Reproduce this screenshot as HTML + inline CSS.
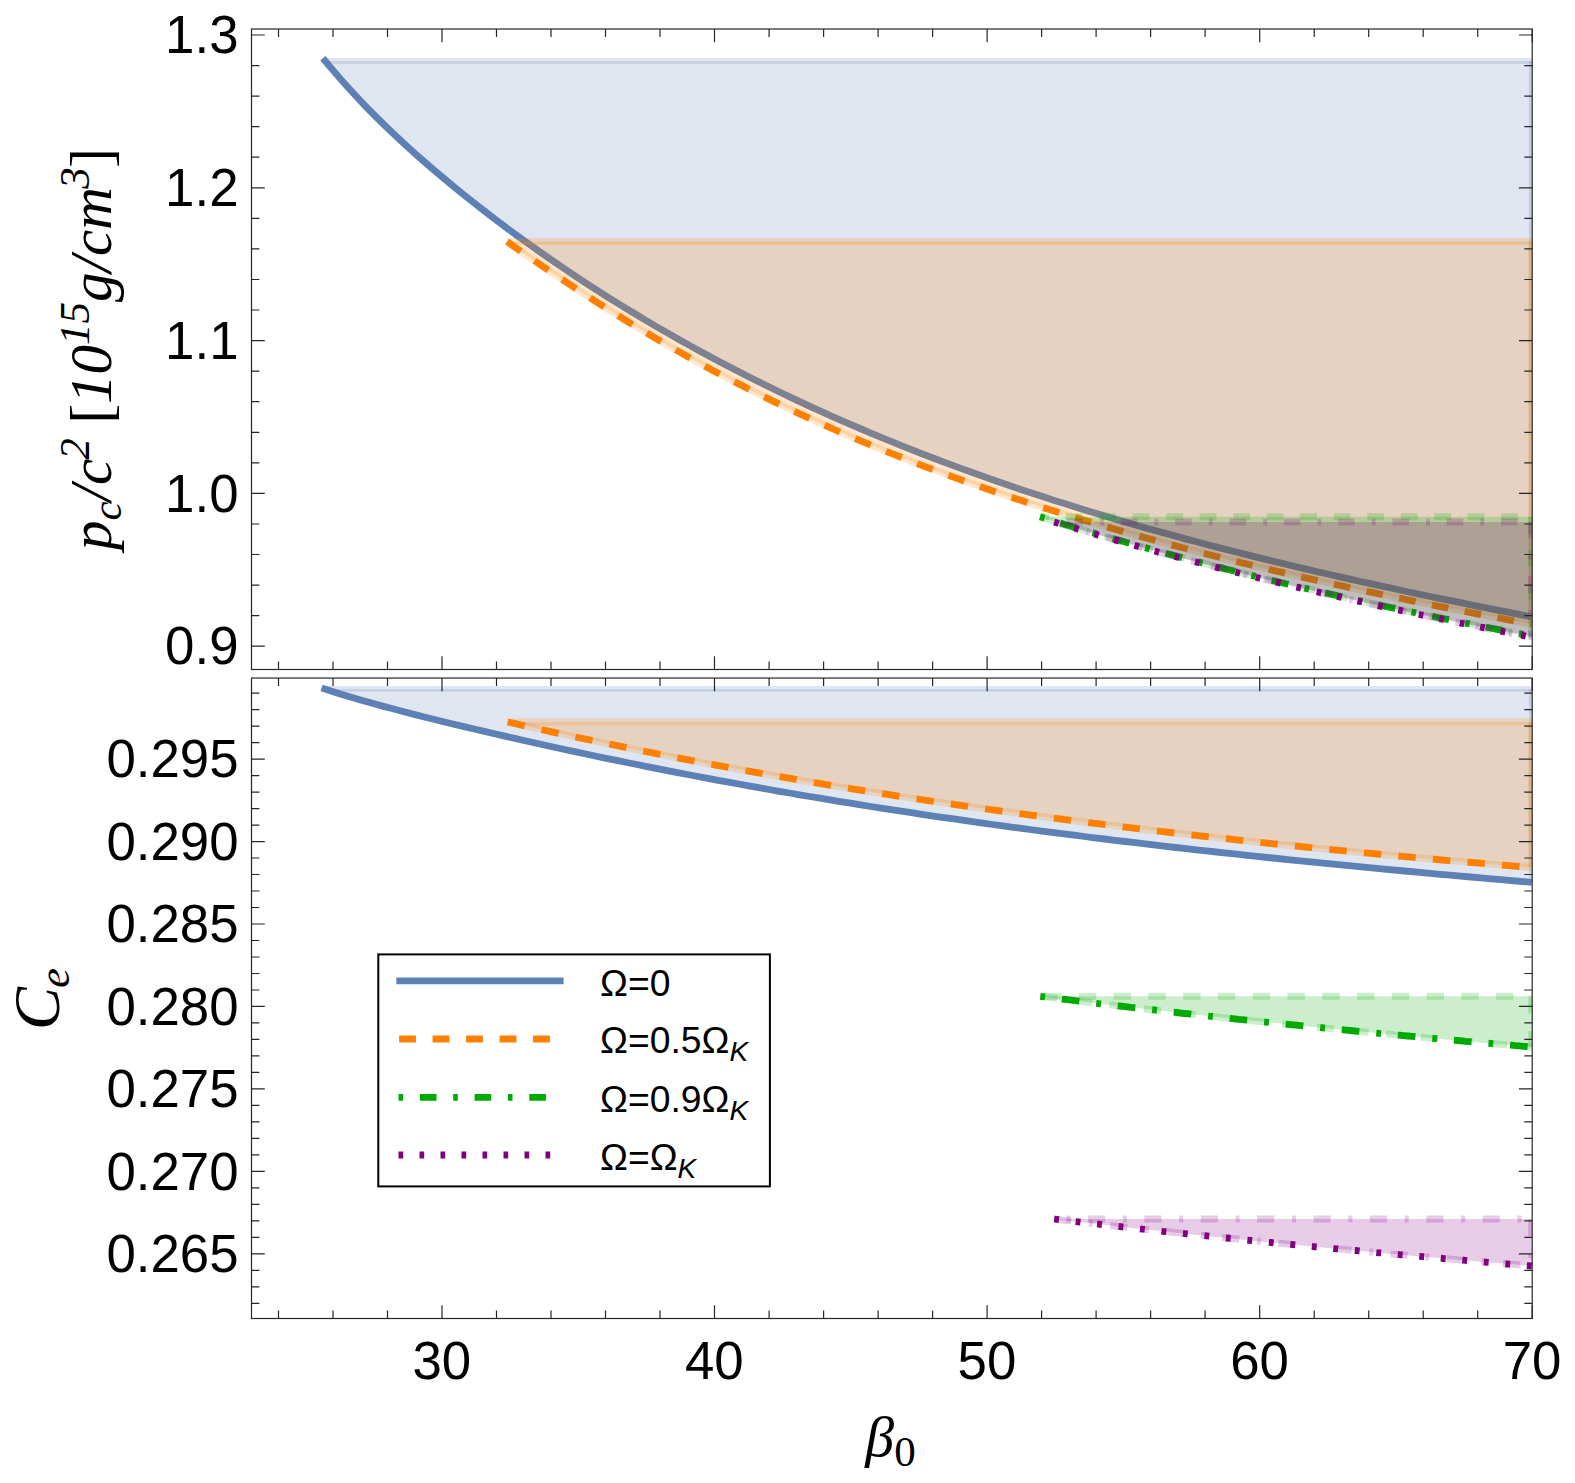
<!DOCTYPE html>
<html><head><meta charset="utf-8"><title>plot</title><style>html,body{margin:0;padding:0;background:#fff}svg{display:block}</style></head><body>
<svg width="1575" height="1483" viewBox="0 0 1575 1483">
<defs><clipPath id="c1"><rect x="251.5" y="29.0" width="1280.7" height="640.5"/></clipPath><clipPath id="c2"><rect x="251.5" y="678.05" width="1280.7" height="640.45"/></clipPath></defs>
<rect width="1575" height="1483" fill="#fff"/>
<g clip-path="url(#c1)"><path d="M322.9,58.2 L333.1,70.4 L343.2,82.1 L353.4,93.3 L363.5,104.1 L373.7,114.5 L383.8,124.5 L394.0,134.2 L404.2,143.7 L414.3,152.9 L424.5,161.9 L434.6,170.6 L444.8,179.2 L455.0,187.6 L465.1,195.8 L475.3,203.9 L485.4,211.8 L495.6,219.6 L505.7,227.2 L515.9,234.7 L526.1,242.1 L536.2,249.3 L546.4,256.4 L556.5,263.4 L566.7,270.3 L576.8,277.1 L587.0,283.8 L597.2,290.3 L607.3,296.8 L617.5,303.1 L627.6,309.4 L637.8,315.5 L648.0,321.6 L658.1,327.6 L668.3,333.4 L678.4,339.2 L688.6,344.9 L698.7,350.5 L708.9,356.0 L719.1,361.4 L729.2,366.8 L739.4,372.0 L749.5,377.2 L759.7,382.3 L769.9,387.3 L780.0,392.2 L790.2,397.1 L800.3,401.9 L810.5,406.6 L820.6,411.2 L830.8,415.8 L841.0,420.3 L851.1,424.7 L861.3,429.0 L871.4,433.3 L881.6,437.6 L891.7,441.7 L901.9,445.8 L912.1,449.8 L922.2,453.8 L932.4,457.7 L942.5,461.6 L952.7,465.4 L962.9,469.1 L973.0,472.8 L983.2,476.4 L993.3,480.0 L1003.5,483.5 L1013.6,487.0 L1023.8,490.4 L1034.0,493.8 L1044.1,497.1 L1054.3,500.4 L1064.4,503.6 L1074.6,506.8 L1084.7,509.9 L1094.9,513.0 L1105.1,516.1 L1115.2,519.1 L1125.4,522.0 L1135.5,525.0 L1145.7,527.9 L1155.9,530.7 L1166.0,533.6 L1176.2,536.3 L1186.3,539.1 L1196.5,541.8 L1206.6,544.5 L1216.8,547.1 L1227.0,549.7 L1237.1,552.3 L1247.3,554.9 L1257.4,557.4 L1267.6,559.9 L1277.8,562.4 L1287.9,564.8 L1298.1,567.2 L1308.2,569.6 L1318.4,572.0 L1328.5,574.3 L1338.7,576.6 L1348.9,578.9 L1359.0,581.2 L1369.2,583.4 L1379.3,585.6 L1389.5,587.8 L1399.6,590.0 L1409.8,592.2 L1420.0,594.3 L1430.1,596.5 L1440.3,598.6 L1450.4,600.7 L1460.6,602.7 L1470.8,604.8 L1480.9,606.8 L1491.1,608.9 L1501.2,610.9 L1511.4,612.9 L1521.5,614.9 L1531.7,616.8 L1531.7,60.9 L322.9,60.9 Z" fill="#5E81B5" fill-opacity="0.2" stroke="none"/>
<path d="M322.9,60.9 L1531.7,60.9" fill="none" stroke="#5E81B5" stroke-opacity="0.2" stroke-width="5.7"/>
<path d="M1531.7,60.9 L1531.7,616.8" fill="none" stroke="#5E81B5" stroke-opacity="0.2" stroke-width="5.7"/>
<path d="M322.9,58.2 L333.1,70.4 L343.2,82.1 L353.4,93.3 L363.5,104.1 L373.7,114.5 L383.8,124.5 L394.0,134.2 L404.2,143.7 L414.3,152.9 L424.5,161.9 L434.6,170.6 L444.8,179.2 L455.0,187.6 L465.1,195.8 L475.3,203.9 L485.4,211.8 L495.6,219.6 L505.7,227.2 L515.9,234.7 L526.1,242.1 L536.2,249.3 L546.4,256.4 L556.5,263.4 L566.7,270.3 L576.8,277.1 L587.0,283.8 L597.2,290.3 L607.3,296.8 L617.5,303.1 L627.6,309.4 L637.8,315.5 L648.0,321.6 L658.1,327.6 L668.3,333.4 L678.4,339.2 L688.6,344.9 L698.7,350.5 L708.9,356.0 L719.1,361.4 L729.2,366.8 L739.4,372.0 L749.5,377.2 L759.7,382.3 L769.9,387.3 L780.0,392.2 L790.2,397.1 L800.3,401.9 L810.5,406.6 L820.6,411.2 L830.8,415.8 L841.0,420.3 L851.1,424.7 L861.3,429.0 L871.4,433.3 L881.6,437.6 L891.7,441.7 L901.9,445.8 L912.1,449.8 L922.2,453.8 L932.4,457.7 L942.5,461.6 L952.7,465.4 L962.9,469.1 L973.0,472.8 L983.2,476.4 L993.3,480.0 L1003.5,483.5 L1013.6,487.0 L1023.8,490.4 L1034.0,493.8 L1044.1,497.1 L1054.3,500.4 L1064.4,503.6 L1074.6,506.8 L1084.7,509.9 L1094.9,513.0 L1105.1,516.1 L1115.2,519.1 L1125.4,522.0 L1135.5,525.0 L1145.7,527.9 L1155.9,530.7 L1166.0,533.6 L1176.2,536.3 L1186.3,539.1 L1196.5,541.8 L1206.6,544.5 L1216.8,547.1 L1227.0,549.7 L1237.1,552.3 L1247.3,554.9 L1257.4,557.4 L1267.6,559.9 L1277.8,562.4 L1287.9,564.8 L1298.1,567.2 L1308.2,569.6 L1318.4,572.0 L1328.5,574.3 L1338.7,576.6 L1348.9,578.9 L1359.0,581.2 L1369.2,583.4 L1379.3,585.6 L1389.5,587.8 L1399.6,590.0 L1409.8,592.2 L1420.0,594.3 L1430.1,596.5 L1440.3,598.6 L1450.4,600.7 L1460.6,602.7 L1470.8,604.8 L1480.9,606.8 L1491.1,608.9 L1501.2,610.9 L1511.4,612.9 L1521.5,614.9 L1531.7,616.8" fill="none" stroke="#5E81B5" stroke-opacity="0.2" stroke-width="5.7"/>
<path d="M322.9,58.2 L333.1,70.4 L343.2,82.1 L353.4,93.3 L363.5,104.1 L373.7,114.5 L383.8,124.5 L394.0,134.2 L404.2,143.7 L414.3,152.9 L424.5,161.9 L434.6,170.6 L444.8,179.2 L455.0,187.6 L465.1,195.8 L475.3,203.9 L485.4,211.8 L495.6,219.6 L505.7,227.2 L515.9,234.7 L526.1,242.1 L536.2,249.3 L546.4,256.4 L556.5,263.4 L566.7,270.3 L576.8,277.1 L587.0,283.8 L597.2,290.3 L607.3,296.8 L617.5,303.1 L627.6,309.4 L637.8,315.5 L648.0,321.6 L658.1,327.6 L668.3,333.4 L678.4,339.2 L688.6,344.9 L698.7,350.5 L708.9,356.0 L719.1,361.4 L729.2,366.8 L739.4,372.0 L749.5,377.2 L759.7,382.3 L769.9,387.3 L780.0,392.2 L790.2,397.1 L800.3,401.9 L810.5,406.6 L820.6,411.2 L830.8,415.8 L841.0,420.3 L851.1,424.7 L861.3,429.0 L871.4,433.3 L881.6,437.6 L891.7,441.7 L901.9,445.8 L912.1,449.8 L922.2,453.8 L932.4,457.7 L942.5,461.6 L952.7,465.4 L962.9,469.1 L973.0,472.8 L983.2,476.4 L993.3,480.0 L1003.5,483.5 L1013.6,487.0 L1023.8,490.4 L1034.0,493.8 L1044.1,497.1 L1054.3,500.4 L1064.4,503.6 L1074.6,506.8 L1084.7,509.9 L1094.9,513.0 L1105.1,516.1 L1115.2,519.1 L1125.4,522.0 L1135.5,525.0 L1145.7,527.9 L1155.9,530.7 L1166.0,533.6 L1176.2,536.3 L1186.3,539.1 L1196.5,541.8 L1206.6,544.5 L1216.8,547.1 L1227.0,549.7 L1237.1,552.3 L1247.3,554.9 L1257.4,557.4 L1267.6,559.9 L1277.8,562.4 L1287.9,564.8 L1298.1,567.2 L1308.2,569.6 L1318.4,572.0 L1328.5,574.3 L1338.7,576.6 L1348.9,578.9 L1359.0,581.2 L1369.2,583.4 L1379.3,585.6 L1389.5,587.8 L1399.6,590.0 L1409.8,592.2 L1420.0,594.3 L1430.1,596.5 L1440.3,598.6 L1450.4,600.7 L1460.6,602.7 L1470.8,604.8 L1480.9,606.8 L1491.1,608.9 L1501.2,610.9 L1511.4,612.9 L1521.5,614.9 L1531.7,616.8" fill="none" stroke="#5E81B5" stroke-width="6.8"/>
<path d="M507.1,241.6 L515.7,247.7 L524.3,253.7 L532.9,259.6 L541.5,265.5 L550.2,271.4 L558.8,277.2 L567.4,282.9 L576.0,288.6 L584.6,294.3 L593.2,299.8 L601.8,305.3 L610.4,310.8 L619.0,316.2 L627.6,321.5 L636.3,326.7 L644.9,331.9 L653.5,337.0 L662.1,342.0 L670.7,347.0 L679.3,351.9 L687.9,356.8 L696.5,361.5 L705.1,366.2 L713.7,370.9 L722.4,375.5 L731.0,380.0 L739.6,384.4 L748.2,388.8 L756.8,393.2 L765.4,397.4 L774.0,401.6 L782.6,405.8 L791.2,409.9 L799.8,413.9 L808.5,417.9 L817.1,421.8 L825.7,425.7 L834.3,429.5 L842.9,433.3 L851.5,437.0 L860.1,440.6 L868.7,444.2 L877.3,447.8 L885.9,451.3 L894.6,454.7 L903.2,458.1 L911.8,461.5 L920.4,464.8 L929.0,468.1 L937.6,471.3 L946.2,474.5 L954.8,477.6 L963.4,480.7 L972.0,483.8 L980.7,486.8 L989.3,489.8 L997.9,492.7 L1006.5,495.6 L1015.1,498.5 L1023.7,501.3 L1032.3,504.1 L1040.9,506.9 L1049.5,509.6 L1058.1,512.3 L1066.8,514.9 L1075.4,517.6 L1084.0,520.2 L1092.6,522.7 L1101.2,525.3 L1109.8,527.8 L1118.4,530.2 L1127.0,532.7 L1135.6,535.1 L1144.2,537.5 L1152.9,539.8 L1161.5,542.2 L1170.1,544.5 L1178.7,546.8 L1187.3,549.0 L1195.9,551.3 L1204.5,553.5 L1213.1,555.7 L1221.7,557.8 L1230.3,560.0 L1239.0,562.1 L1247.6,564.2 L1256.2,566.3 L1264.8,568.4 L1273.4,570.4 L1282.0,572.4 L1290.6,574.4 L1299.2,576.4 L1307.8,578.4 L1316.4,580.3 L1325.1,582.2 L1333.7,584.1 L1342.3,586.0 L1350.9,587.9 L1359.5,589.8 L1368.1,591.6 L1376.7,593.4 L1385.3,595.3 L1393.9,597.1 L1402.5,598.8 L1411.2,600.6 L1419.8,602.4 L1428.4,604.1 L1437.0,605.9 L1445.6,607.6 L1454.2,609.3 L1462.8,611.0 L1471.4,612.6 L1480.0,614.3 L1488.6,616.0 L1497.3,617.6 L1505.9,619.3 L1514.5,620.9 L1523.1,622.5 L1531.7,624.1 L1531.7,241.6 L507.1,241.6 Z" fill="#FF8000" fill-opacity="0.2" stroke="none"/>
<path d="M507.1,241.6 L1531.7,241.6" fill="none" stroke="#FF8000" stroke-opacity="0.2" stroke-width="7.0"/>
<path d="M1531.7,241.6 L1531.7,624.1" fill="none" stroke="#FF8000" stroke-opacity="0.2" stroke-width="7.0"/>
<path d="M507.1,241.6 L515.7,247.7 L524.3,253.7 L532.9,259.6 L541.5,265.5 L550.2,271.4 L558.8,277.2 L567.4,282.9 L576.0,288.6 L584.6,294.3 L593.2,299.8 L601.8,305.3 L610.4,310.8 L619.0,316.2 L627.6,321.5 L636.3,326.7 L644.9,331.9 L653.5,337.0 L662.1,342.0 L670.7,347.0 L679.3,351.9 L687.9,356.8 L696.5,361.5 L705.1,366.2 L713.7,370.9 L722.4,375.5 L731.0,380.0 L739.6,384.4 L748.2,388.8 L756.8,393.2 L765.4,397.4 L774.0,401.6 L782.6,405.8 L791.2,409.9 L799.8,413.9 L808.5,417.9 L817.1,421.8 L825.7,425.7 L834.3,429.5 L842.9,433.3 L851.5,437.0 L860.1,440.6 L868.7,444.2 L877.3,447.8 L885.9,451.3 L894.6,454.7 L903.2,458.1 L911.8,461.5 L920.4,464.8 L929.0,468.1 L937.6,471.3 L946.2,474.5 L954.8,477.6 L963.4,480.7 L972.0,483.8 L980.7,486.8 L989.3,489.8 L997.9,492.7 L1006.5,495.6 L1015.1,498.5 L1023.7,501.3 L1032.3,504.1 L1040.9,506.9 L1049.5,509.6 L1058.1,512.3 L1066.8,514.9 L1075.4,517.6 L1084.0,520.2 L1092.6,522.7 L1101.2,525.3 L1109.8,527.8 L1118.4,530.2 L1127.0,532.7 L1135.6,535.1 L1144.2,537.5 L1152.9,539.8 L1161.5,542.2 L1170.1,544.5 L1178.7,546.8 L1187.3,549.0 L1195.9,551.3 L1204.5,553.5 L1213.1,555.7 L1221.7,557.8 L1230.3,560.0 L1239.0,562.1 L1247.6,564.2 L1256.2,566.3 L1264.8,568.4 L1273.4,570.4 L1282.0,572.4 L1290.6,574.4 L1299.2,576.4 L1307.8,578.4 L1316.4,580.3 L1325.1,582.2 L1333.7,584.1 L1342.3,586.0 L1350.9,587.9 L1359.5,589.8 L1368.1,591.6 L1376.7,593.4 L1385.3,595.3 L1393.9,597.1 L1402.5,598.8 L1411.2,600.6 L1419.8,602.4 L1428.4,604.1 L1437.0,605.9 L1445.6,607.6 L1454.2,609.3 L1462.8,611.0 L1471.4,612.6 L1480.0,614.3 L1488.6,616.0 L1497.3,617.6 L1505.9,619.3 L1514.5,620.9 L1523.1,622.5 L1531.7,624.1" fill="none" stroke="#FF8000" stroke-opacity="0.2" stroke-width="7.0"/>
<path d="M507.1,241.6 L515.7,247.7 L524.3,253.7 L532.9,259.6 L541.5,265.5 L550.2,271.4 L558.8,277.2 L567.4,282.9 L576.0,288.6 L584.6,294.3 L593.2,299.8 L601.8,305.3 L610.4,310.8 L619.0,316.2 L627.6,321.5 L636.3,326.7 L644.9,331.9 L653.5,337.0 L662.1,342.0 L670.7,347.0 L679.3,351.9 L687.9,356.8 L696.5,361.5 L705.1,366.2 L713.7,370.9 L722.4,375.5 L731.0,380.0 L739.6,384.4 L748.2,388.8 L756.8,393.2 L765.4,397.4 L774.0,401.6 L782.6,405.8 L791.2,409.9 L799.8,413.9 L808.5,417.9 L817.1,421.8 L825.7,425.7 L834.3,429.5 L842.9,433.3 L851.5,437.0 L860.1,440.6 L868.7,444.2 L877.3,447.8 L885.9,451.3 L894.6,454.7 L903.2,458.1 L911.8,461.5 L920.4,464.8 L929.0,468.1 L937.6,471.3 L946.2,474.5 L954.8,477.6 L963.4,480.7 L972.0,483.8 L980.7,486.8 L989.3,489.8 L997.9,492.7 L1006.5,495.6 L1015.1,498.5 L1023.7,501.3 L1032.3,504.1 L1040.9,506.9 L1049.5,509.6 L1058.1,512.3 L1066.8,514.9 L1075.4,517.6 L1084.0,520.2 L1092.6,522.7 L1101.2,525.3 L1109.8,527.8 L1118.4,530.2 L1127.0,532.7 L1135.6,535.1 L1144.2,537.5 L1152.9,539.8 L1161.5,542.2 L1170.1,544.5 L1178.7,546.8 L1187.3,549.0 L1195.9,551.3 L1204.5,553.5 L1213.1,555.7 L1221.7,557.8 L1230.3,560.0 L1239.0,562.1 L1247.6,564.2 L1256.2,566.3 L1264.8,568.4 L1273.4,570.4 L1282.0,572.4 L1290.6,574.4 L1299.2,576.4 L1307.8,578.4 L1316.4,580.3 L1325.1,582.2 L1333.7,584.1 L1342.3,586.0 L1350.9,587.9 L1359.5,589.8 L1368.1,591.6 L1376.7,593.4 L1385.3,595.3 L1393.9,597.1 L1402.5,598.8 L1411.2,600.6 L1419.8,602.4 L1428.4,604.1 L1437.0,605.9 L1445.6,607.6 L1454.2,609.3 L1462.8,611.0 L1471.4,612.6 L1480.0,614.3 L1488.6,616.0 L1497.3,617.6 L1505.9,619.3 L1514.5,620.9 L1523.1,622.5 L1531.7,624.1" fill="none" stroke="#FF8000" stroke-width="6.8" stroke-dasharray="16.80 16.60"/>
<path d="M1040.0,516.8 L1044.1,518.1 L1048.3,519.3 L1052.4,520.6 L1056.5,521.9 L1060.7,523.1 L1064.8,524.4 L1068.9,525.6 L1073.1,526.9 L1077.2,528.1 L1081.3,529.3 L1085.5,530.6 L1089.6,531.8 L1093.7,533.0 L1097.8,534.2 L1102.0,535.4 L1106.1,536.6 L1110.2,537.8 L1114.4,539.0 L1118.5,540.1 L1122.6,541.3 L1126.8,542.5 L1130.9,543.6 L1135.0,544.8 L1139.2,545.9 L1143.3,547.1 L1147.4,548.2 L1151.6,549.4 L1155.7,550.5 L1159.8,551.6 L1164.0,552.7 L1168.1,553.9 L1172.2,555.0 L1176.4,556.1 L1180.5,557.2 L1184.6,558.3 L1188.7,559.4 L1192.9,560.4 L1197.0,561.5 L1201.1,562.6 L1205.3,563.7 L1209.4,564.7 L1213.5,565.8 L1217.7,566.9 L1221.8,567.9 L1225.9,569.0 L1230.1,570.0 L1234.2,571.0 L1238.3,572.1 L1242.5,573.1 L1246.6,574.1 L1250.7,575.2 L1254.9,576.2 L1259.0,577.2 L1263.1,578.2 L1267.3,579.2 L1271.4,580.2 L1275.5,581.2 L1279.7,582.2 L1283.8,583.2 L1287.9,584.2 L1292.0,585.2 L1296.2,586.1 L1300.3,587.1 L1304.4,588.1 L1308.6,589.0 L1312.7,590.0 L1316.8,591.0 L1321.0,591.9 L1325.1,592.9 L1329.2,593.8 L1333.4,594.7 L1337.5,595.7 L1341.6,596.6 L1345.8,597.6 L1349.9,598.5 L1354.0,599.4 L1358.2,600.3 L1362.3,601.2 L1366.4,602.2 L1370.6,603.1 L1374.7,604.0 L1378.8,604.9 L1383.0,605.8 L1387.1,606.7 L1391.2,607.6 L1395.3,608.4 L1399.5,609.3 L1403.6,610.2 L1407.7,611.1 L1411.9,612.0 L1416.0,612.8 L1420.1,613.7 L1424.3,614.6 L1428.4,615.4 L1432.5,616.3 L1436.7,617.2 L1440.8,618.0 L1444.9,618.9 L1449.1,619.7 L1453.2,620.6 L1457.3,621.4 L1461.5,622.2 L1465.6,623.1 L1469.7,623.9 L1473.9,624.7 L1478.0,625.6 L1482.1,626.4 L1486.2,627.2 L1490.4,628.0 L1494.5,628.8 L1498.6,629.6 L1502.8,630.4 L1506.9,631.2 L1511.0,632.1 L1515.2,632.9 L1519.3,633.6 L1523.4,634.4 L1527.6,635.2 L1531.7,636.0 L1531.7,516.8 L1040.0,516.8 Z" fill="#00AA00" fill-opacity="0.2" stroke="none"/>
<path d="M1040.0,516.8 L1531.7,516.8" fill="none" stroke="#00AA00" stroke-opacity="0.2" stroke-width="7.0" stroke-dasharray="16.80 16.70" stroke-dashoffset="7.8"/>
<path d="M1531.7,516.8 L1531.7,636.0" fill="none" stroke="#00AA00" stroke-opacity="0.2" stroke-width="7.0" stroke-dasharray="16.80 16.70"/>
<path d="M1040.0,516.8 L1044.1,518.1 L1048.3,519.3 L1052.4,520.6 L1056.5,521.9 L1060.7,523.1 L1064.8,524.4 L1068.9,525.6 L1073.1,526.9 L1077.2,528.1 L1081.3,529.3 L1085.5,530.6 L1089.6,531.8 L1093.7,533.0 L1097.8,534.2 L1102.0,535.4 L1106.1,536.6 L1110.2,537.8 L1114.4,539.0 L1118.5,540.1 L1122.6,541.3 L1126.8,542.5 L1130.9,543.6 L1135.0,544.8 L1139.2,545.9 L1143.3,547.1 L1147.4,548.2 L1151.6,549.4 L1155.7,550.5 L1159.8,551.6 L1164.0,552.7 L1168.1,553.9 L1172.2,555.0 L1176.4,556.1 L1180.5,557.2 L1184.6,558.3 L1188.7,559.4 L1192.9,560.4 L1197.0,561.5 L1201.1,562.6 L1205.3,563.7 L1209.4,564.7 L1213.5,565.8 L1217.7,566.9 L1221.8,567.9 L1225.9,569.0 L1230.1,570.0 L1234.2,571.0 L1238.3,572.1 L1242.5,573.1 L1246.6,574.1 L1250.7,575.2 L1254.9,576.2 L1259.0,577.2 L1263.1,578.2 L1267.3,579.2 L1271.4,580.2 L1275.5,581.2 L1279.7,582.2 L1283.8,583.2 L1287.9,584.2 L1292.0,585.2 L1296.2,586.1 L1300.3,587.1 L1304.4,588.1 L1308.6,589.0 L1312.7,590.0 L1316.8,591.0 L1321.0,591.9 L1325.1,592.9 L1329.2,593.8 L1333.4,594.7 L1337.5,595.7 L1341.6,596.6 L1345.8,597.6 L1349.9,598.5 L1354.0,599.4 L1358.2,600.3 L1362.3,601.2 L1366.4,602.2 L1370.6,603.1 L1374.7,604.0 L1378.8,604.9 L1383.0,605.8 L1387.1,606.7 L1391.2,607.6 L1395.3,608.4 L1399.5,609.3 L1403.6,610.2 L1407.7,611.1 L1411.9,612.0 L1416.0,612.8 L1420.1,613.7 L1424.3,614.6 L1428.4,615.4 L1432.5,616.3 L1436.7,617.2 L1440.8,618.0 L1444.9,618.9 L1449.1,619.7 L1453.2,620.6 L1457.3,621.4 L1461.5,622.2 L1465.6,623.1 L1469.7,623.9 L1473.9,624.7 L1478.0,625.6 L1482.1,626.4 L1486.2,627.2 L1490.4,628.0 L1494.5,628.8 L1498.6,629.6 L1502.8,630.4 L1506.9,631.2 L1511.0,632.1 L1515.2,632.9 L1519.3,633.6 L1523.4,634.4 L1527.6,635.2 L1531.7,636.0" fill="none" stroke="#00AA00" stroke-opacity="0.2" stroke-width="7.0" stroke-dasharray="16.80 16.70"/>
<path d="M1040.0,516.8 L1044.1,518.1 L1048.3,519.3 L1052.4,520.6 L1056.5,521.9 L1060.7,523.1 L1064.8,524.4 L1068.9,525.6 L1073.1,526.9 L1077.2,528.1 L1081.3,529.3 L1085.5,530.6 L1089.6,531.8 L1093.7,533.0 L1097.8,534.2 L1102.0,535.4 L1106.1,536.6 L1110.2,537.8 L1114.4,539.0 L1118.5,540.1 L1122.6,541.3 L1126.8,542.5 L1130.9,543.6 L1135.0,544.8 L1139.2,545.9 L1143.3,547.1 L1147.4,548.2 L1151.6,549.4 L1155.7,550.5 L1159.8,551.6 L1164.0,552.7 L1168.1,553.9 L1172.2,555.0 L1176.4,556.1 L1180.5,557.2 L1184.6,558.3 L1188.7,559.4 L1192.9,560.4 L1197.0,561.5 L1201.1,562.6 L1205.3,563.7 L1209.4,564.7 L1213.5,565.8 L1217.7,566.9 L1221.8,567.9 L1225.9,569.0 L1230.1,570.0 L1234.2,571.0 L1238.3,572.1 L1242.5,573.1 L1246.6,574.1 L1250.7,575.2 L1254.9,576.2 L1259.0,577.2 L1263.1,578.2 L1267.3,579.2 L1271.4,580.2 L1275.5,581.2 L1279.7,582.2 L1283.8,583.2 L1287.9,584.2 L1292.0,585.2 L1296.2,586.1 L1300.3,587.1 L1304.4,588.1 L1308.6,589.0 L1312.7,590.0 L1316.8,591.0 L1321.0,591.9 L1325.1,592.9 L1329.2,593.8 L1333.4,594.7 L1337.5,595.7 L1341.6,596.6 L1345.8,597.6 L1349.9,598.5 L1354.0,599.4 L1358.2,600.3 L1362.3,601.2 L1366.4,602.2 L1370.6,603.1 L1374.7,604.0 L1378.8,604.9 L1383.0,605.8 L1387.1,606.7 L1391.2,607.6 L1395.3,608.4 L1399.5,609.3 L1403.6,610.2 L1407.7,611.1 L1411.9,612.0 L1416.0,612.8 L1420.1,613.7 L1424.3,614.6 L1428.4,615.4 L1432.5,616.3 L1436.7,617.2 L1440.8,618.0 L1444.9,618.9 L1449.1,619.7 L1453.2,620.6 L1457.3,621.4 L1461.5,622.2 L1465.6,623.1 L1469.7,623.9 L1473.9,624.7 L1478.0,625.6 L1482.1,626.4 L1486.2,627.2 L1490.4,628.0 L1494.5,628.8 L1498.6,629.6 L1502.8,630.4 L1506.9,631.2 L1511.0,632.1 L1515.2,632.9 L1519.3,633.6 L1523.4,634.4 L1527.6,635.2 L1531.7,636.0" fill="none" stroke="#00AA00" stroke-width="6.8" stroke-dasharray="4.70 16.40 17.20 16.50"/>
<path d="M1054.2,522.0 L1058.2,523.2 L1062.2,524.4 L1066.2,525.6 L1070.3,526.8 L1074.3,528.0 L1078.3,529.2 L1082.3,530.4 L1086.3,531.6 L1090.3,532.8 L1094.3,534.0 L1098.3,535.1 L1102.4,536.3 L1106.4,537.5 L1110.4,538.6 L1114.4,539.8 L1118.4,540.9 L1122.4,542.0 L1126.4,543.2 L1130.4,544.3 L1134.5,545.4 L1138.5,546.5 L1142.5,547.7 L1146.5,548.8 L1150.5,549.9 L1154.5,551.0 L1158.5,552.1 L1162.5,553.1 L1166.6,554.2 L1170.6,555.3 L1174.6,556.4 L1178.6,557.5 L1182.6,558.5 L1186.6,559.6 L1190.6,560.6 L1194.6,561.7 L1198.7,562.7 L1202.7,563.8 L1206.7,564.8 L1210.7,565.9 L1214.7,566.9 L1218.7,567.9 L1222.7,568.9 L1226.7,570.0 L1230.8,571.0 L1234.8,572.0 L1238.8,573.0 L1242.8,574.0 L1246.8,575.0 L1250.8,576.0 L1254.8,577.0 L1258.8,578.0 L1262.9,579.0 L1266.9,579.9 L1270.9,580.9 L1274.9,581.9 L1278.9,582.8 L1282.9,583.8 L1286.9,584.8 L1290.9,585.7 L1295.0,586.7 L1299.0,587.6 L1303.0,588.6 L1307.0,589.5 L1311.0,590.5 L1315.0,591.4 L1319.0,592.3 L1323.0,593.2 L1327.1,594.2 L1331.1,595.1 L1335.1,596.0 L1339.1,596.9 L1343.1,597.8 L1347.1,598.7 L1351.1,599.6 L1355.1,600.5 L1359.2,601.4 L1363.2,602.3 L1367.2,603.2 L1371.2,604.1 L1375.2,605.0 L1379.2,605.9 L1383.2,606.8 L1387.2,607.6 L1391.3,608.5 L1395.3,609.4 L1399.3,610.2 L1403.3,611.1 L1407.3,612.0 L1411.3,612.8 L1415.3,613.7 L1419.3,614.5 L1423.4,615.4 L1427.4,616.2 L1431.4,617.0 L1435.4,617.9 L1439.4,618.7 L1443.4,619.5 L1447.4,620.4 L1451.4,621.2 L1455.5,622.0 L1459.5,622.8 L1463.5,623.7 L1467.5,624.5 L1471.5,625.3 L1475.5,626.1 L1479.5,626.9 L1483.5,627.7 L1487.6,628.5 L1491.6,629.3 L1495.6,630.1 L1499.6,630.9 L1503.6,631.7 L1507.6,632.5 L1511.6,633.3 L1515.6,634.0 L1519.7,634.8 L1523.7,635.6 L1527.7,636.4 L1531.7,637.1 L1531.7,522.0 L1054.2,522.0 Z" fill="#800080" fill-opacity="0.2" stroke="none"/>
<path d="M1054.2,522.0 L1531.7,522.0" fill="none" stroke="#800080" stroke-opacity="0.2" stroke-width="7.0" stroke-dasharray="16.60 17.00 3.90 16.80" stroke-dashoffset="41.9"/>
<path d="M1531.7,522.0 L1531.7,637.1" fill="none" stroke="#800080" stroke-opacity="0.2" stroke-width="7.0" stroke-dasharray="16.60 17.00 3.90 16.80"/>
<path d="M1054.2,522.0 L1058.2,523.2 L1062.2,524.4 L1066.2,525.6 L1070.3,526.8 L1074.3,528.0 L1078.3,529.2 L1082.3,530.4 L1086.3,531.6 L1090.3,532.8 L1094.3,534.0 L1098.3,535.1 L1102.4,536.3 L1106.4,537.5 L1110.4,538.6 L1114.4,539.8 L1118.4,540.9 L1122.4,542.0 L1126.4,543.2 L1130.4,544.3 L1134.5,545.4 L1138.5,546.5 L1142.5,547.7 L1146.5,548.8 L1150.5,549.9 L1154.5,551.0 L1158.5,552.1 L1162.5,553.1 L1166.6,554.2 L1170.6,555.3 L1174.6,556.4 L1178.6,557.5 L1182.6,558.5 L1186.6,559.6 L1190.6,560.6 L1194.6,561.7 L1198.7,562.7 L1202.7,563.8 L1206.7,564.8 L1210.7,565.9 L1214.7,566.9 L1218.7,567.9 L1222.7,568.9 L1226.7,570.0 L1230.8,571.0 L1234.8,572.0 L1238.8,573.0 L1242.8,574.0 L1246.8,575.0 L1250.8,576.0 L1254.8,577.0 L1258.8,578.0 L1262.9,579.0 L1266.9,579.9 L1270.9,580.9 L1274.9,581.9 L1278.9,582.8 L1282.9,583.8 L1286.9,584.8 L1290.9,585.7 L1295.0,586.7 L1299.0,587.6 L1303.0,588.6 L1307.0,589.5 L1311.0,590.5 L1315.0,591.4 L1319.0,592.3 L1323.0,593.2 L1327.1,594.2 L1331.1,595.1 L1335.1,596.0 L1339.1,596.9 L1343.1,597.8 L1347.1,598.7 L1351.1,599.6 L1355.1,600.5 L1359.2,601.4 L1363.2,602.3 L1367.2,603.2 L1371.2,604.1 L1375.2,605.0 L1379.2,605.9 L1383.2,606.8 L1387.2,607.6 L1391.3,608.5 L1395.3,609.4 L1399.3,610.2 L1403.3,611.1 L1407.3,612.0 L1411.3,612.8 L1415.3,613.7 L1419.3,614.5 L1423.4,615.4 L1427.4,616.2 L1431.4,617.0 L1435.4,617.9 L1439.4,618.7 L1443.4,619.5 L1447.4,620.4 L1451.4,621.2 L1455.5,622.0 L1459.5,622.8 L1463.5,623.7 L1467.5,624.5 L1471.5,625.3 L1475.5,626.1 L1479.5,626.9 L1483.5,627.7 L1487.6,628.5 L1491.6,629.3 L1495.6,630.1 L1499.6,630.9 L1503.6,631.7 L1507.6,632.5 L1511.6,633.3 L1515.6,634.0 L1519.7,634.8 L1523.7,635.6 L1527.7,636.4 L1531.7,637.1" fill="none" stroke="#800080" stroke-opacity="0.2" stroke-width="7.0" stroke-dasharray="16.60 17.00 3.90 16.80"/>
<path d="M1054.2,522.0 L1058.2,523.2 L1062.2,524.4 L1066.2,525.6 L1070.3,526.8 L1074.3,528.0 L1078.3,529.2 L1082.3,530.4 L1086.3,531.6 L1090.3,532.8 L1094.3,534.0 L1098.3,535.1 L1102.4,536.3 L1106.4,537.5 L1110.4,538.6 L1114.4,539.8 L1118.4,540.9 L1122.4,542.0 L1126.4,543.2 L1130.4,544.3 L1134.5,545.4 L1138.5,546.5 L1142.5,547.7 L1146.5,548.8 L1150.5,549.9 L1154.5,551.0 L1158.5,552.1 L1162.5,553.1 L1166.6,554.2 L1170.6,555.3 L1174.6,556.4 L1178.6,557.5 L1182.6,558.5 L1186.6,559.6 L1190.6,560.6 L1194.6,561.7 L1198.7,562.7 L1202.7,563.8 L1206.7,564.8 L1210.7,565.9 L1214.7,566.9 L1218.7,567.9 L1222.7,568.9 L1226.7,570.0 L1230.8,571.0 L1234.8,572.0 L1238.8,573.0 L1242.8,574.0 L1246.8,575.0 L1250.8,576.0 L1254.8,577.0 L1258.8,578.0 L1262.9,579.0 L1266.9,579.9 L1270.9,580.9 L1274.9,581.9 L1278.9,582.8 L1282.9,583.8 L1286.9,584.8 L1290.9,585.7 L1295.0,586.7 L1299.0,587.6 L1303.0,588.6 L1307.0,589.5 L1311.0,590.5 L1315.0,591.4 L1319.0,592.3 L1323.0,593.2 L1327.1,594.2 L1331.1,595.1 L1335.1,596.0 L1339.1,596.9 L1343.1,597.8 L1347.1,598.7 L1351.1,599.6 L1355.1,600.5 L1359.2,601.4 L1363.2,602.3 L1367.2,603.2 L1371.2,604.1 L1375.2,605.0 L1379.2,605.9 L1383.2,606.8 L1387.2,607.6 L1391.3,608.5 L1395.3,609.4 L1399.3,610.2 L1403.3,611.1 L1407.3,612.0 L1411.3,612.8 L1415.3,613.7 L1419.3,614.5 L1423.4,615.4 L1427.4,616.2 L1431.4,617.0 L1435.4,617.9 L1439.4,618.7 L1443.4,619.5 L1447.4,620.4 L1451.4,621.2 L1455.5,622.0 L1459.5,622.8 L1463.5,623.7 L1467.5,624.5 L1471.5,625.3 L1475.5,626.1 L1479.5,626.9 L1483.5,627.7 L1487.6,628.5 L1491.6,629.3 L1495.6,630.1 L1499.6,630.9 L1503.6,631.7 L1507.6,632.5 L1511.6,633.3 L1515.6,634.0 L1519.7,634.8 L1523.7,635.6 L1527.7,636.4 L1531.7,637.1" fill="none" stroke="#800080" stroke-width="6.8" stroke-dasharray="4.70 16.20"/></g>
<g clip-path="url(#c2)"><path d="M321.6,688.0 L331.8,691.3 L341.9,694.5 L352.1,697.5 L362.3,700.5 L372.4,703.3 L382.6,706.1 L392.8,708.8 L403.0,711.5 L413.1,714.1 L423.3,716.7 L433.5,719.2 L443.6,721.7 L453.8,724.2 L464.0,726.6 L474.1,729.0 L484.3,731.4 L494.5,733.8 L504.6,736.1 L514.8,738.4 L525.0,740.7 L535.1,743.0 L545.3,745.2 L555.5,747.5 L565.7,749.7 L575.8,751.9 L586.0,754.0 L596.2,756.2 L606.3,758.3 L616.5,760.4 L626.7,762.5 L636.8,764.5 L647.0,766.6 L657.2,768.6 L667.3,770.6 L677.5,772.6 L687.7,774.5 L697.8,776.5 L708.0,778.4 L718.2,780.3 L728.4,782.2 L738.5,784.0 L748.7,785.9 L758.9,787.7 L769.0,789.5 L779.2,791.3 L789.4,793.0 L799.5,794.8 L809.7,796.5 L819.9,798.2 L830.0,799.9 L840.2,801.6 L850.4,803.2 L860.6,804.8 L870.7,806.5 L880.9,808.1 L891.1,809.6 L901.2,811.2 L911.4,812.7 L921.6,814.3 L931.7,815.8 L941.9,817.3 L952.1,818.7 L962.2,820.2 L972.4,821.6 L982.6,823.1 L992.7,824.5 L1002.9,825.9 L1013.1,827.3 L1023.3,828.6 L1033.4,830.0 L1043.6,831.3 L1053.8,832.6 L1063.9,833.9 L1074.1,835.2 L1084.3,836.5 L1094.4,837.8 L1104.6,839.0 L1114.8,840.3 L1124.9,841.5 L1135.1,842.7 L1145.3,843.9 L1155.5,845.1 L1165.6,846.3 L1175.8,847.5 L1186.0,848.6 L1196.1,849.8 L1206.3,850.9 L1216.5,852.0 L1226.6,853.1 L1236.8,854.2 L1247.0,855.3 L1257.1,856.4 L1267.3,857.5 L1277.5,858.5 L1287.6,859.6 L1297.8,860.6 L1308.0,861.6 L1318.2,862.7 L1328.3,863.7 L1338.5,864.7 L1348.7,865.7 L1358.8,866.7 L1369.0,867.6 L1379.2,868.6 L1389.3,869.6 L1399.5,870.5 L1409.7,871.5 L1419.8,872.4 L1430.0,873.4 L1440.2,874.3 L1450.3,875.2 L1460.5,876.1 L1470.7,877.0 L1480.9,877.9 L1491.0,878.8 L1501.2,879.7 L1511.4,880.6 L1521.5,881.5 L1531.7,882.3 L1531.7,688.9 L321.6,688.9 Z" fill="#5E81B5" fill-opacity="0.2" stroke="none"/>
<path d="M321.6,688.9 L1531.7,688.9" fill="none" stroke="#5E81B5" stroke-opacity="0.2" stroke-width="5.7"/>
<path d="M1531.7,688.9 L1531.7,882.3" fill="none" stroke="#5E81B5" stroke-opacity="0.2" stroke-width="5.7"/>
<path d="M321.6,688.0 L331.8,691.3 L341.9,694.5 L352.1,697.5 L362.3,700.5 L372.4,703.3 L382.6,706.1 L392.8,708.8 L403.0,711.5 L413.1,714.1 L423.3,716.7 L433.5,719.2 L443.6,721.7 L453.8,724.2 L464.0,726.6 L474.1,729.0 L484.3,731.4 L494.5,733.8 L504.6,736.1 L514.8,738.4 L525.0,740.7 L535.1,743.0 L545.3,745.2 L555.5,747.5 L565.7,749.7 L575.8,751.9 L586.0,754.0 L596.2,756.2 L606.3,758.3 L616.5,760.4 L626.7,762.5 L636.8,764.5 L647.0,766.6 L657.2,768.6 L667.3,770.6 L677.5,772.6 L687.7,774.5 L697.8,776.5 L708.0,778.4 L718.2,780.3 L728.4,782.2 L738.5,784.0 L748.7,785.9 L758.9,787.7 L769.0,789.5 L779.2,791.3 L789.4,793.0 L799.5,794.8 L809.7,796.5 L819.9,798.2 L830.0,799.9 L840.2,801.6 L850.4,803.2 L860.6,804.8 L870.7,806.5 L880.9,808.1 L891.1,809.6 L901.2,811.2 L911.4,812.7 L921.6,814.3 L931.7,815.8 L941.9,817.3 L952.1,818.7 L962.2,820.2 L972.4,821.6 L982.6,823.1 L992.7,824.5 L1002.9,825.9 L1013.1,827.3 L1023.3,828.6 L1033.4,830.0 L1043.6,831.3 L1053.8,832.6 L1063.9,833.9 L1074.1,835.2 L1084.3,836.5 L1094.4,837.8 L1104.6,839.0 L1114.8,840.3 L1124.9,841.5 L1135.1,842.7 L1145.3,843.9 L1155.5,845.1 L1165.6,846.3 L1175.8,847.5 L1186.0,848.6 L1196.1,849.8 L1206.3,850.9 L1216.5,852.0 L1226.6,853.1 L1236.8,854.2 L1247.0,855.3 L1257.1,856.4 L1267.3,857.5 L1277.5,858.5 L1287.6,859.6 L1297.8,860.6 L1308.0,861.6 L1318.2,862.7 L1328.3,863.7 L1338.5,864.7 L1348.7,865.7 L1358.8,866.7 L1369.0,867.6 L1379.2,868.6 L1389.3,869.6 L1399.5,870.5 L1409.7,871.5 L1419.8,872.4 L1430.0,873.4 L1440.2,874.3 L1450.3,875.2 L1460.5,876.1 L1470.7,877.0 L1480.9,877.9 L1491.0,878.8 L1501.2,879.7 L1511.4,880.6 L1521.5,881.5 L1531.7,882.3" fill="none" stroke="#5E81B5" stroke-opacity="0.2" stroke-width="5.7"/>
<path d="M321.6,688.0 L331.8,691.3 L341.9,694.5 L352.1,697.5 L362.3,700.5 L372.4,703.3 L382.6,706.1 L392.8,708.8 L403.0,711.5 L413.1,714.1 L423.3,716.7 L433.5,719.2 L443.6,721.7 L453.8,724.2 L464.0,726.6 L474.1,729.0 L484.3,731.4 L494.5,733.8 L504.6,736.1 L514.8,738.4 L525.0,740.7 L535.1,743.0 L545.3,745.2 L555.5,747.5 L565.7,749.7 L575.8,751.9 L586.0,754.0 L596.2,756.2 L606.3,758.3 L616.5,760.4 L626.7,762.5 L636.8,764.5 L647.0,766.6 L657.2,768.6 L667.3,770.6 L677.5,772.6 L687.7,774.5 L697.8,776.5 L708.0,778.4 L718.2,780.3 L728.4,782.2 L738.5,784.0 L748.7,785.9 L758.9,787.7 L769.0,789.5 L779.2,791.3 L789.4,793.0 L799.5,794.8 L809.7,796.5 L819.9,798.2 L830.0,799.9 L840.2,801.6 L850.4,803.2 L860.6,804.8 L870.7,806.5 L880.9,808.1 L891.1,809.6 L901.2,811.2 L911.4,812.7 L921.6,814.3 L931.7,815.8 L941.9,817.3 L952.1,818.7 L962.2,820.2 L972.4,821.6 L982.6,823.1 L992.7,824.5 L1002.9,825.9 L1013.1,827.3 L1023.3,828.6 L1033.4,830.0 L1043.6,831.3 L1053.8,832.6 L1063.9,833.9 L1074.1,835.2 L1084.3,836.5 L1094.4,837.8 L1104.6,839.0 L1114.8,840.3 L1124.9,841.5 L1135.1,842.7 L1145.3,843.9 L1155.5,845.1 L1165.6,846.3 L1175.8,847.5 L1186.0,848.6 L1196.1,849.8 L1206.3,850.9 L1216.5,852.0 L1226.6,853.1 L1236.8,854.2 L1247.0,855.3 L1257.1,856.4 L1267.3,857.5 L1277.5,858.5 L1287.6,859.6 L1297.8,860.6 L1308.0,861.6 L1318.2,862.7 L1328.3,863.7 L1338.5,864.7 L1348.7,865.7 L1358.8,866.7 L1369.0,867.6 L1379.2,868.6 L1389.3,869.6 L1399.5,870.5 L1409.7,871.5 L1419.8,872.4 L1430.0,873.4 L1440.2,874.3 L1450.3,875.2 L1460.5,876.1 L1470.7,877.0 L1480.9,877.9 L1491.0,878.8 L1501.2,879.7 L1511.4,880.6 L1521.5,881.5 L1531.7,882.3" fill="none" stroke="#5E81B5" stroke-width="6.8"/>
<path d="M507.7,722.0 L516.3,723.9 L524.9,725.9 L533.5,727.8 L542.1,729.7 L550.7,731.6 L559.3,733.5 L567.9,735.3 L576.5,737.2 L585.1,739.0 L593.8,740.8 L602.4,742.6 L611.0,744.4 L619.6,746.2 L628.2,748.0 L636.8,749.7 L645.4,751.5 L654.0,753.2 L662.6,754.9 L671.2,756.6 L679.8,758.3 L688.4,759.9 L697.0,761.6 L705.6,763.2 L714.2,764.8 L722.8,766.4 L731.4,768.0 L740.0,769.6 L748.6,771.1 L757.2,772.7 L765.9,774.2 L774.5,775.7 L783.1,777.2 L791.7,778.7 L800.3,780.2 L808.9,781.7 L817.5,783.1 L826.1,784.6 L834.7,786.0 L843.3,787.4 L851.9,788.8 L860.5,790.2 L869.1,791.5 L877.7,792.9 L886.3,794.2 L894.9,795.6 L903.5,796.9 L912.1,798.2 L920.7,799.5 L929.3,800.8 L938.0,802.1 L946.6,803.3 L955.2,804.6 L963.8,805.8 L972.4,807.0 L981.0,808.3 L989.6,809.5 L998.2,810.7 L1006.8,811.9 L1015.4,813.0 L1024.0,814.2 L1032.6,815.3 L1041.2,816.5 L1049.8,817.6 L1058.4,818.7 L1067.0,819.9 L1075.6,821.0 L1084.2,822.0 L1092.8,823.1 L1101.4,824.2 L1110.1,825.3 L1118.7,826.3 L1127.3,827.4 L1135.9,828.4 L1144.5,829.4 L1153.1,830.4 L1161.7,831.5 L1170.3,832.5 L1178.9,833.4 L1187.5,834.4 L1196.1,835.4 L1204.7,836.4 L1213.3,837.3 L1221.9,838.3 L1230.5,839.2 L1239.1,840.1 L1247.7,841.1 L1256.3,842.0 L1264.9,842.9 L1273.5,843.8 L1282.2,844.7 L1290.8,845.6 L1299.4,846.4 L1308.0,847.3 L1316.6,848.2 L1325.2,849.0 L1333.8,849.9 L1342.4,850.7 L1351.0,851.5 L1359.6,852.4 L1368.2,853.2 L1376.8,854.0 L1385.4,854.8 L1394.0,855.6 L1402.6,856.4 L1411.2,857.2 L1419.8,858.0 L1428.4,858.7 L1437.0,859.5 L1445.6,860.3 L1454.3,861.0 L1462.9,861.8 L1471.5,862.5 L1480.1,863.2 L1488.7,864.0 L1497.3,864.7 L1505.9,865.4 L1514.5,866.1 L1523.1,866.8 L1531.7,867.5 L1531.7,722.0 L507.7,722.0 Z" fill="#FF8000" fill-opacity="0.2" stroke="none"/>
<path d="M507.7,722.0 L1531.7,722.0" fill="none" stroke="#FF8000" stroke-opacity="0.2" stroke-width="7.0"/>
<path d="M1531.7,722.0 L1531.7,867.5" fill="none" stroke="#FF8000" stroke-opacity="0.2" stroke-width="7.0"/>
<path d="M507.7,722.0 L516.3,723.9 L524.9,725.9 L533.5,727.8 L542.1,729.7 L550.7,731.6 L559.3,733.5 L567.9,735.3 L576.5,737.2 L585.1,739.0 L593.8,740.8 L602.4,742.6 L611.0,744.4 L619.6,746.2 L628.2,748.0 L636.8,749.7 L645.4,751.5 L654.0,753.2 L662.6,754.9 L671.2,756.6 L679.8,758.3 L688.4,759.9 L697.0,761.6 L705.6,763.2 L714.2,764.8 L722.8,766.4 L731.4,768.0 L740.0,769.6 L748.6,771.1 L757.2,772.7 L765.9,774.2 L774.5,775.7 L783.1,777.2 L791.7,778.7 L800.3,780.2 L808.9,781.7 L817.5,783.1 L826.1,784.6 L834.7,786.0 L843.3,787.4 L851.9,788.8 L860.5,790.2 L869.1,791.5 L877.7,792.9 L886.3,794.2 L894.9,795.6 L903.5,796.9 L912.1,798.2 L920.7,799.5 L929.3,800.8 L938.0,802.1 L946.6,803.3 L955.2,804.6 L963.8,805.8 L972.4,807.0 L981.0,808.3 L989.6,809.5 L998.2,810.7 L1006.8,811.9 L1015.4,813.0 L1024.0,814.2 L1032.6,815.3 L1041.2,816.5 L1049.8,817.6 L1058.4,818.7 L1067.0,819.9 L1075.6,821.0 L1084.2,822.0 L1092.8,823.1 L1101.4,824.2 L1110.1,825.3 L1118.7,826.3 L1127.3,827.4 L1135.9,828.4 L1144.5,829.4 L1153.1,830.4 L1161.7,831.5 L1170.3,832.5 L1178.9,833.4 L1187.5,834.4 L1196.1,835.4 L1204.7,836.4 L1213.3,837.3 L1221.9,838.3 L1230.5,839.2 L1239.1,840.1 L1247.7,841.1 L1256.3,842.0 L1264.9,842.9 L1273.5,843.8 L1282.2,844.7 L1290.8,845.6 L1299.4,846.4 L1308.0,847.3 L1316.6,848.2 L1325.2,849.0 L1333.8,849.9 L1342.4,850.7 L1351.0,851.5 L1359.6,852.4 L1368.2,853.2 L1376.8,854.0 L1385.4,854.8 L1394.0,855.6 L1402.6,856.4 L1411.2,857.2 L1419.8,858.0 L1428.4,858.7 L1437.0,859.5 L1445.6,860.3 L1454.3,861.0 L1462.9,861.8 L1471.5,862.5 L1480.1,863.2 L1488.7,864.0 L1497.3,864.7 L1505.9,865.4 L1514.5,866.1 L1523.1,866.8 L1531.7,867.5" fill="none" stroke="#FF8000" stroke-opacity="0.2" stroke-width="7.0"/>
<path d="M507.7,722.0 L516.3,723.9 L524.9,725.9 L533.5,727.8 L542.1,729.7 L550.7,731.6 L559.3,733.5 L567.9,735.3 L576.5,737.2 L585.1,739.0 L593.8,740.8 L602.4,742.6 L611.0,744.4 L619.6,746.2 L628.2,748.0 L636.8,749.7 L645.4,751.5 L654.0,753.2 L662.6,754.9 L671.2,756.6 L679.8,758.3 L688.4,759.9 L697.0,761.6 L705.6,763.2 L714.2,764.8 L722.8,766.4 L731.4,768.0 L740.0,769.6 L748.6,771.1 L757.2,772.7 L765.9,774.2 L774.5,775.7 L783.1,777.2 L791.7,778.7 L800.3,780.2 L808.9,781.7 L817.5,783.1 L826.1,784.6 L834.7,786.0 L843.3,787.4 L851.9,788.8 L860.5,790.2 L869.1,791.5 L877.7,792.9 L886.3,794.2 L894.9,795.6 L903.5,796.9 L912.1,798.2 L920.7,799.5 L929.3,800.8 L938.0,802.1 L946.6,803.3 L955.2,804.6 L963.8,805.8 L972.4,807.0 L981.0,808.3 L989.6,809.5 L998.2,810.7 L1006.8,811.9 L1015.4,813.0 L1024.0,814.2 L1032.6,815.3 L1041.2,816.5 L1049.8,817.6 L1058.4,818.7 L1067.0,819.9 L1075.6,821.0 L1084.2,822.0 L1092.8,823.1 L1101.4,824.2 L1110.1,825.3 L1118.7,826.3 L1127.3,827.4 L1135.9,828.4 L1144.5,829.4 L1153.1,830.4 L1161.7,831.5 L1170.3,832.5 L1178.9,833.4 L1187.5,834.4 L1196.1,835.4 L1204.7,836.4 L1213.3,837.3 L1221.9,838.3 L1230.5,839.2 L1239.1,840.1 L1247.7,841.1 L1256.3,842.0 L1264.9,842.9 L1273.5,843.8 L1282.2,844.7 L1290.8,845.6 L1299.4,846.4 L1308.0,847.3 L1316.6,848.2 L1325.2,849.0 L1333.8,849.9 L1342.4,850.7 L1351.0,851.5 L1359.6,852.4 L1368.2,853.2 L1376.8,854.0 L1385.4,854.8 L1394.0,855.6 L1402.6,856.4 L1411.2,857.2 L1419.8,858.0 L1428.4,858.7 L1437.0,859.5 L1445.6,860.3 L1454.3,861.0 L1462.9,861.8 L1471.5,862.5 L1480.1,863.2 L1488.7,864.0 L1497.3,864.7 L1505.9,865.4 L1514.5,866.1 L1523.1,866.8 L1531.7,867.5" fill="none" stroke="#FF8000" stroke-width="6.8" stroke-dasharray="17.44 17.23"/>
<path d="M1040.3,996.3 L1044.4,996.8 L1048.6,997.4 L1052.7,997.9 L1056.8,998.4 L1060.9,998.9 L1065.1,999.4 L1069.2,999.9 L1073.3,1000.4 L1077.5,1001.0 L1081.6,1001.5 L1085.7,1002.0 L1089.9,1002.5 L1094.0,1003.0 L1098.1,1003.5 L1102.2,1004.0 L1106.4,1004.4 L1110.5,1004.9 L1114.6,1005.4 L1118.8,1005.9 L1122.9,1006.4 L1127.0,1006.9 L1131.1,1007.4 L1135.3,1007.8 L1139.4,1008.3 L1143.5,1008.8 L1147.7,1009.3 L1151.8,1009.7 L1155.9,1010.2 L1160.1,1010.7 L1164.2,1011.1 L1168.3,1011.6 L1172.4,1012.1 L1176.6,1012.5 L1180.7,1013.0 L1184.8,1013.5 L1189.0,1013.9 L1193.1,1014.4 L1197.2,1014.8 L1201.3,1015.3 L1205.5,1015.7 L1209.6,1016.2 L1213.7,1016.6 L1217.9,1017.1 L1222.0,1017.5 L1226.1,1017.9 L1230.3,1018.4 L1234.4,1018.8 L1238.5,1019.3 L1242.6,1019.7 L1246.8,1020.1 L1250.9,1020.6 L1255.0,1021.0 L1259.2,1021.4 L1263.3,1021.9 L1267.4,1022.3 L1271.5,1022.7 L1275.7,1023.1 L1279.8,1023.6 L1283.9,1024.0 L1288.1,1024.4 L1292.2,1024.8 L1296.3,1025.2 L1300.5,1025.7 L1304.6,1026.1 L1308.7,1026.5 L1312.8,1026.9 L1317.0,1027.3 L1321.1,1027.7 L1325.2,1028.1 L1329.4,1028.5 L1333.5,1028.9 L1337.6,1029.3 L1341.7,1029.7 L1345.9,1030.1 L1350.0,1030.5 L1354.1,1030.9 L1358.3,1031.3 L1362.4,1031.7 L1366.5,1032.1 L1370.7,1032.5 L1374.8,1032.9 L1378.9,1033.3 L1383.0,1033.7 L1387.2,1034.1 L1391.3,1034.5 L1395.4,1034.9 L1399.6,1035.2 L1403.7,1035.6 L1407.8,1036.0 L1411.9,1036.4 L1416.1,1036.8 L1420.2,1037.2 L1424.3,1037.5 L1428.5,1037.9 L1432.6,1038.3 L1436.7,1038.7 L1440.9,1039.0 L1445.0,1039.4 L1449.1,1039.8 L1453.2,1040.1 L1457.4,1040.5 L1461.5,1040.9 L1465.6,1041.3 L1469.8,1041.6 L1473.9,1042.0 L1478.0,1042.3 L1482.1,1042.7 L1486.3,1043.1 L1490.4,1043.4 L1494.5,1043.8 L1498.7,1044.2 L1502.8,1044.5 L1506.9,1044.9 L1511.1,1045.2 L1515.2,1045.6 L1519.3,1045.9 L1523.4,1046.3 L1527.6,1046.6 L1531.7,1047.0 L1531.7,996.3 L1040.3,996.3 Z" fill="#00AA00" fill-opacity="0.2" stroke="none"/>
<path d="M1040.3,996.3 L1531.7,996.3" fill="none" stroke="#00AA00" stroke-opacity="0.2" stroke-width="7.0" stroke-dasharray="17.44 17.33" stroke-dashoffset="31.0"/>
<path d="M1531.7,996.3 L1531.7,1047.0" fill="none" stroke="#00AA00" stroke-opacity="0.2" stroke-width="7.0" stroke-dasharray="17.44 17.33"/>
<path d="M1040.3,996.3 L1044.4,996.8 L1048.6,997.4 L1052.7,997.9 L1056.8,998.4 L1060.9,998.9 L1065.1,999.4 L1069.2,999.9 L1073.3,1000.4 L1077.5,1001.0 L1081.6,1001.5 L1085.7,1002.0 L1089.9,1002.5 L1094.0,1003.0 L1098.1,1003.5 L1102.2,1004.0 L1106.4,1004.4 L1110.5,1004.9 L1114.6,1005.4 L1118.8,1005.9 L1122.9,1006.4 L1127.0,1006.9 L1131.1,1007.4 L1135.3,1007.8 L1139.4,1008.3 L1143.5,1008.8 L1147.7,1009.3 L1151.8,1009.7 L1155.9,1010.2 L1160.1,1010.7 L1164.2,1011.1 L1168.3,1011.6 L1172.4,1012.1 L1176.6,1012.5 L1180.7,1013.0 L1184.8,1013.5 L1189.0,1013.9 L1193.1,1014.4 L1197.2,1014.8 L1201.3,1015.3 L1205.5,1015.7 L1209.6,1016.2 L1213.7,1016.6 L1217.9,1017.1 L1222.0,1017.5 L1226.1,1017.9 L1230.3,1018.4 L1234.4,1018.8 L1238.5,1019.3 L1242.6,1019.7 L1246.8,1020.1 L1250.9,1020.6 L1255.0,1021.0 L1259.2,1021.4 L1263.3,1021.9 L1267.4,1022.3 L1271.5,1022.7 L1275.7,1023.1 L1279.8,1023.6 L1283.9,1024.0 L1288.1,1024.4 L1292.2,1024.8 L1296.3,1025.2 L1300.5,1025.7 L1304.6,1026.1 L1308.7,1026.5 L1312.8,1026.9 L1317.0,1027.3 L1321.1,1027.7 L1325.2,1028.1 L1329.4,1028.5 L1333.5,1028.9 L1337.6,1029.3 L1341.7,1029.7 L1345.9,1030.1 L1350.0,1030.5 L1354.1,1030.9 L1358.3,1031.3 L1362.4,1031.7 L1366.5,1032.1 L1370.7,1032.5 L1374.8,1032.9 L1378.9,1033.3 L1383.0,1033.7 L1387.2,1034.1 L1391.3,1034.5 L1395.4,1034.9 L1399.6,1035.2 L1403.7,1035.6 L1407.8,1036.0 L1411.9,1036.4 L1416.1,1036.8 L1420.2,1037.2 L1424.3,1037.5 L1428.5,1037.9 L1432.6,1038.3 L1436.7,1038.7 L1440.9,1039.0 L1445.0,1039.4 L1449.1,1039.8 L1453.2,1040.1 L1457.4,1040.5 L1461.5,1040.9 L1465.6,1041.3 L1469.8,1041.6 L1473.9,1042.0 L1478.0,1042.3 L1482.1,1042.7 L1486.3,1043.1 L1490.4,1043.4 L1494.5,1043.8 L1498.7,1044.2 L1502.8,1044.5 L1506.9,1044.9 L1511.1,1045.2 L1515.2,1045.6 L1519.3,1045.9 L1523.4,1046.3 L1527.6,1046.6 L1531.7,1047.0" fill="none" stroke="#00AA00" stroke-opacity="0.2" stroke-width="7.0" stroke-dasharray="17.44 17.33"/>
<path d="M1040.3,996.3 L1044.4,996.8 L1048.6,997.4 L1052.7,997.9 L1056.8,998.4 L1060.9,998.9 L1065.1,999.4 L1069.2,999.9 L1073.3,1000.4 L1077.5,1001.0 L1081.6,1001.5 L1085.7,1002.0 L1089.9,1002.5 L1094.0,1003.0 L1098.1,1003.5 L1102.2,1004.0 L1106.4,1004.4 L1110.5,1004.9 L1114.6,1005.4 L1118.8,1005.9 L1122.9,1006.4 L1127.0,1006.9 L1131.1,1007.4 L1135.3,1007.8 L1139.4,1008.3 L1143.5,1008.8 L1147.7,1009.3 L1151.8,1009.7 L1155.9,1010.2 L1160.1,1010.7 L1164.2,1011.1 L1168.3,1011.6 L1172.4,1012.1 L1176.6,1012.5 L1180.7,1013.0 L1184.8,1013.5 L1189.0,1013.9 L1193.1,1014.4 L1197.2,1014.8 L1201.3,1015.3 L1205.5,1015.7 L1209.6,1016.2 L1213.7,1016.6 L1217.9,1017.1 L1222.0,1017.5 L1226.1,1017.9 L1230.3,1018.4 L1234.4,1018.8 L1238.5,1019.3 L1242.6,1019.7 L1246.8,1020.1 L1250.9,1020.6 L1255.0,1021.0 L1259.2,1021.4 L1263.3,1021.9 L1267.4,1022.3 L1271.5,1022.7 L1275.7,1023.1 L1279.8,1023.6 L1283.9,1024.0 L1288.1,1024.4 L1292.2,1024.8 L1296.3,1025.2 L1300.5,1025.7 L1304.6,1026.1 L1308.7,1026.5 L1312.8,1026.9 L1317.0,1027.3 L1321.1,1027.7 L1325.2,1028.1 L1329.4,1028.5 L1333.5,1028.9 L1337.6,1029.3 L1341.7,1029.7 L1345.9,1030.1 L1350.0,1030.5 L1354.1,1030.9 L1358.3,1031.3 L1362.4,1031.7 L1366.5,1032.1 L1370.7,1032.5 L1374.8,1032.9 L1378.9,1033.3 L1383.0,1033.7 L1387.2,1034.1 L1391.3,1034.5 L1395.4,1034.9 L1399.6,1035.2 L1403.7,1035.6 L1407.8,1036.0 L1411.9,1036.4 L1416.1,1036.8 L1420.2,1037.2 L1424.3,1037.5 L1428.5,1037.9 L1432.6,1038.3 L1436.7,1038.7 L1440.9,1039.0 L1445.0,1039.4 L1449.1,1039.8 L1453.2,1040.1 L1457.4,1040.5 L1461.5,1040.9 L1465.6,1041.3 L1469.8,1041.6 L1473.9,1042.0 L1478.0,1042.3 L1482.1,1042.7 L1486.3,1043.1 L1490.4,1043.4 L1494.5,1043.8 L1498.7,1044.2 L1502.8,1044.5 L1506.9,1044.9 L1511.1,1045.2 L1515.2,1045.6 L1519.3,1045.9 L1523.4,1046.3 L1527.6,1046.6 L1531.7,1047.0" fill="none" stroke="#00AA00" stroke-width="6.8" stroke-dasharray="4.83 16.86 17.68 16.96"/>
<path d="M1054.2,1219.0 L1058.2,1219.5 L1062.2,1220.0 L1066.2,1220.4 L1070.3,1220.9 L1074.3,1221.4 L1078.3,1221.8 L1082.3,1222.3 L1086.3,1222.8 L1090.3,1223.2 L1094.3,1223.7 L1098.3,1224.1 L1102.4,1224.6 L1106.4,1225.1 L1110.4,1225.5 L1114.4,1226.0 L1118.4,1226.4 L1122.4,1226.9 L1126.4,1227.3 L1130.4,1227.8 L1134.5,1228.2 L1138.5,1228.6 L1142.5,1229.1 L1146.5,1229.5 L1150.5,1230.0 L1154.5,1230.4 L1158.5,1230.8 L1162.5,1231.3 L1166.6,1231.7 L1170.6,1232.1 L1174.6,1232.6 L1178.6,1233.0 L1182.6,1233.4 L1186.6,1233.8 L1190.6,1234.3 L1194.6,1234.7 L1198.7,1235.1 L1202.7,1235.5 L1206.7,1235.9 L1210.7,1236.4 L1214.7,1236.8 L1218.7,1237.2 L1222.7,1237.6 L1226.7,1238.0 L1230.8,1238.4 L1234.8,1238.8 L1238.8,1239.2 L1242.8,1239.7 L1246.8,1240.1 L1250.8,1240.5 L1254.8,1240.9 L1258.8,1241.3 L1262.9,1241.7 L1266.9,1242.1 L1270.9,1242.5 L1274.9,1242.9 L1278.9,1243.3 L1282.9,1243.6 L1286.9,1244.0 L1290.9,1244.4 L1295.0,1244.8 L1299.0,1245.2 L1303.0,1245.6 L1307.0,1246.0 L1311.0,1246.4 L1315.0,1246.8 L1319.0,1247.1 L1323.0,1247.5 L1327.1,1247.9 L1331.1,1248.3 L1335.1,1248.7 L1339.1,1249.0 L1343.1,1249.4 L1347.1,1249.8 L1351.1,1250.2 L1355.1,1250.5 L1359.2,1250.9 L1363.2,1251.3 L1367.2,1251.7 L1371.2,1252.0 L1375.2,1252.4 L1379.2,1252.8 L1383.2,1253.1 L1387.2,1253.5 L1391.3,1253.9 L1395.3,1254.2 L1399.3,1254.6 L1403.3,1254.9 L1407.3,1255.3 L1411.3,1255.7 L1415.3,1256.0 L1419.3,1256.4 L1423.4,1256.7 L1427.4,1257.1 L1431.4,1257.4 L1435.4,1257.8 L1439.4,1258.1 L1443.4,1258.5 L1447.4,1258.8 L1451.4,1259.2 L1455.5,1259.5 L1459.5,1259.9 L1463.5,1260.2 L1467.5,1260.6 L1471.5,1260.9 L1475.5,1261.3 L1479.5,1261.6 L1483.5,1261.9 L1487.6,1262.3 L1491.6,1262.6 L1495.6,1263.0 L1499.6,1263.3 L1503.6,1263.6 L1507.6,1264.0 L1511.6,1264.3 L1515.6,1264.6 L1519.7,1265.0 L1523.7,1265.3 L1527.7,1265.6 L1531.7,1266.0 L1531.7,1219.0 L1054.2,1219.0 Z" fill="#800080" fill-opacity="0.2" stroke="none"/>
<path d="M1054.2,1219.0 L1531.7,1219.0" fill="none" stroke="#800080" stroke-opacity="0.2" stroke-width="7.0" stroke-dasharray="17.23 17.65 4.05 17.44" stroke-dashoffset="22.6"/>
<path d="M1531.7,1219.0 L1531.7,1266.0" fill="none" stroke="#800080" stroke-opacity="0.2" stroke-width="7.0" stroke-dasharray="17.23 17.65 4.05 17.44"/>
<path d="M1054.2,1219.0 L1058.2,1219.5 L1062.2,1220.0 L1066.2,1220.4 L1070.3,1220.9 L1074.3,1221.4 L1078.3,1221.8 L1082.3,1222.3 L1086.3,1222.8 L1090.3,1223.2 L1094.3,1223.7 L1098.3,1224.1 L1102.4,1224.6 L1106.4,1225.1 L1110.4,1225.5 L1114.4,1226.0 L1118.4,1226.4 L1122.4,1226.9 L1126.4,1227.3 L1130.4,1227.8 L1134.5,1228.2 L1138.5,1228.6 L1142.5,1229.1 L1146.5,1229.5 L1150.5,1230.0 L1154.5,1230.4 L1158.5,1230.8 L1162.5,1231.3 L1166.6,1231.7 L1170.6,1232.1 L1174.6,1232.6 L1178.6,1233.0 L1182.6,1233.4 L1186.6,1233.8 L1190.6,1234.3 L1194.6,1234.7 L1198.7,1235.1 L1202.7,1235.5 L1206.7,1235.9 L1210.7,1236.4 L1214.7,1236.8 L1218.7,1237.2 L1222.7,1237.6 L1226.7,1238.0 L1230.8,1238.4 L1234.8,1238.8 L1238.8,1239.2 L1242.8,1239.7 L1246.8,1240.1 L1250.8,1240.5 L1254.8,1240.9 L1258.8,1241.3 L1262.9,1241.7 L1266.9,1242.1 L1270.9,1242.5 L1274.9,1242.9 L1278.9,1243.3 L1282.9,1243.6 L1286.9,1244.0 L1290.9,1244.4 L1295.0,1244.8 L1299.0,1245.2 L1303.0,1245.6 L1307.0,1246.0 L1311.0,1246.4 L1315.0,1246.8 L1319.0,1247.1 L1323.0,1247.5 L1327.1,1247.9 L1331.1,1248.3 L1335.1,1248.7 L1339.1,1249.0 L1343.1,1249.4 L1347.1,1249.8 L1351.1,1250.2 L1355.1,1250.5 L1359.2,1250.9 L1363.2,1251.3 L1367.2,1251.7 L1371.2,1252.0 L1375.2,1252.4 L1379.2,1252.8 L1383.2,1253.1 L1387.2,1253.5 L1391.3,1253.9 L1395.3,1254.2 L1399.3,1254.6 L1403.3,1254.9 L1407.3,1255.3 L1411.3,1255.7 L1415.3,1256.0 L1419.3,1256.4 L1423.4,1256.7 L1427.4,1257.1 L1431.4,1257.4 L1435.4,1257.8 L1439.4,1258.1 L1443.4,1258.5 L1447.4,1258.8 L1451.4,1259.2 L1455.5,1259.5 L1459.5,1259.9 L1463.5,1260.2 L1467.5,1260.6 L1471.5,1260.9 L1475.5,1261.3 L1479.5,1261.6 L1483.5,1261.9 L1487.6,1262.3 L1491.6,1262.6 L1495.6,1263.0 L1499.6,1263.3 L1503.6,1263.6 L1507.6,1264.0 L1511.6,1264.3 L1515.6,1264.6 L1519.7,1265.0 L1523.7,1265.3 L1527.7,1265.6 L1531.7,1266.0" fill="none" stroke="#800080" stroke-opacity="0.2" stroke-width="7.0" stroke-dasharray="17.23 17.65 4.05 17.44"/>
<path d="M1054.2,1219.0 L1058.2,1219.5 L1062.2,1220.0 L1066.2,1220.4 L1070.3,1220.9 L1074.3,1221.4 L1078.3,1221.8 L1082.3,1222.3 L1086.3,1222.8 L1090.3,1223.2 L1094.3,1223.7 L1098.3,1224.1 L1102.4,1224.6 L1106.4,1225.1 L1110.4,1225.5 L1114.4,1226.0 L1118.4,1226.4 L1122.4,1226.9 L1126.4,1227.3 L1130.4,1227.8 L1134.5,1228.2 L1138.5,1228.6 L1142.5,1229.1 L1146.5,1229.5 L1150.5,1230.0 L1154.5,1230.4 L1158.5,1230.8 L1162.5,1231.3 L1166.6,1231.7 L1170.6,1232.1 L1174.6,1232.6 L1178.6,1233.0 L1182.6,1233.4 L1186.6,1233.8 L1190.6,1234.3 L1194.6,1234.7 L1198.7,1235.1 L1202.7,1235.5 L1206.7,1235.9 L1210.7,1236.4 L1214.7,1236.8 L1218.7,1237.2 L1222.7,1237.6 L1226.7,1238.0 L1230.8,1238.4 L1234.8,1238.8 L1238.8,1239.2 L1242.8,1239.7 L1246.8,1240.1 L1250.8,1240.5 L1254.8,1240.9 L1258.8,1241.3 L1262.9,1241.7 L1266.9,1242.1 L1270.9,1242.5 L1274.9,1242.9 L1278.9,1243.3 L1282.9,1243.6 L1286.9,1244.0 L1290.9,1244.4 L1295.0,1244.8 L1299.0,1245.2 L1303.0,1245.6 L1307.0,1246.0 L1311.0,1246.4 L1315.0,1246.8 L1319.0,1247.1 L1323.0,1247.5 L1327.1,1247.9 L1331.1,1248.3 L1335.1,1248.7 L1339.1,1249.0 L1343.1,1249.4 L1347.1,1249.8 L1351.1,1250.2 L1355.1,1250.5 L1359.2,1250.9 L1363.2,1251.3 L1367.2,1251.7 L1371.2,1252.0 L1375.2,1252.4 L1379.2,1252.8 L1383.2,1253.1 L1387.2,1253.5 L1391.3,1253.9 L1395.3,1254.2 L1399.3,1254.6 L1403.3,1254.9 L1407.3,1255.3 L1411.3,1255.7 L1415.3,1256.0 L1419.3,1256.4 L1423.4,1256.7 L1427.4,1257.1 L1431.4,1257.4 L1435.4,1257.8 L1439.4,1258.1 L1443.4,1258.5 L1447.4,1258.8 L1451.4,1259.2 L1455.5,1259.5 L1459.5,1259.9 L1463.5,1260.2 L1467.5,1260.6 L1471.5,1260.9 L1475.5,1261.3 L1479.5,1261.6 L1483.5,1261.9 L1487.6,1262.3 L1491.6,1262.6 L1495.6,1263.0 L1499.6,1263.3 L1503.6,1263.6 L1507.6,1264.0 L1511.6,1264.3 L1515.6,1264.6 L1519.7,1265.0 L1523.7,1265.3 L1527.7,1265.6 L1531.7,1266.0" fill="none" stroke="#800080" stroke-width="6.8" stroke-dasharray="4.86 16.73"/></g>
<g fill="none" stroke="#262626" stroke-width="1.2"><rect x="251.5" y="29.0" width="1280.7" height="640.5"/><rect x="251.5" y="678.05" width="1280.7" height="640.45"/></g>
<g stroke="#262626" stroke-width="1.2" fill="none"><path d="M278.5,669.5 v-7.9 M278.5,29.0 v7.9" /><path d="M333.0,669.5 v-7.9 M333.0,29.0 v7.9" /><path d="M387.5,669.5 v-7.9 M387.5,29.0 v7.9" /><path d="M442.0,669.5 v-13.3 M442.0,29.0 v13.3" /><path d="M496.5,669.5 v-7.9 M496.5,29.0 v7.9" /><path d="M551.0,669.5 v-7.9 M551.0,29.0 v7.9" /><path d="M605.5,669.5 v-7.9 M605.5,29.0 v7.9" /><path d="M660.0,669.5 v-7.9 M660.0,29.0 v7.9" /><path d="M714.5,669.5 v-13.3 M714.5,29.0 v13.3" /><path d="M769.1,669.5 v-7.9 M769.1,29.0 v7.9" /><path d="M823.6,669.5 v-7.9 M823.6,29.0 v7.9" /><path d="M878.1,669.5 v-7.9 M878.1,29.0 v7.9" /><path d="M932.6,669.5 v-7.9 M932.6,29.0 v7.9" /><path d="M987.1,669.5 v-13.3 M987.1,29.0 v13.3" /><path d="M1041.6,669.5 v-7.9 M1041.6,29.0 v7.9" /><path d="M1096.1,669.5 v-7.9 M1096.1,29.0 v7.9" /><path d="M1150.6,669.5 v-7.9 M1150.6,29.0 v7.9" /><path d="M1205.1,669.5 v-7.9 M1205.1,29.0 v7.9" /><path d="M1259.7,669.5 v-13.3 M1259.7,29.0 v13.3" /><path d="M1314.2,669.5 v-7.9 M1314.2,29.0 v7.9" /><path d="M1368.7,669.5 v-7.9 M1368.7,29.0 v7.9" /><path d="M1423.2,669.5 v-7.9 M1423.2,29.0 v7.9" /><path d="M1477.7,669.5 v-7.9 M1477.7,29.0 v7.9" /><path d="M1532.2,669.5 v-13.3 M1532.2,29.0 v13.3" /><path d="M251.5,646.2 h13.3 M1532.2,646.2 h-13.3" /><path d="M251.5,493.4 h13.3 M1532.2,493.4 h-13.3" /><path d="M251.5,340.6 h13.3 M1532.2,340.6 h-13.3" /><path d="M251.5,187.8 h13.3 M1532.2,187.8 h-13.3" /><path d="M251.5,35.0 h13.3 M1532.2,35.0 h-13.3" /><path d="M251.5,615.6 h7.9 M1532.2,615.6 h-7.9" /><path d="M251.5,585.1 h7.9 M1532.2,585.1 h-7.9" /><path d="M251.5,554.5 h7.9 M1532.2,554.5 h-7.9" /><path d="M251.5,524.0 h7.9 M1532.2,524.0 h-7.9" /><path d="M251.5,462.8 h7.9 M1532.2,462.8 h-7.9" /><path d="M251.5,432.3 h7.9 M1532.2,432.3 h-7.9" /><path d="M251.5,401.7 h7.9 M1532.2,401.7 h-7.9" /><path d="M251.5,371.2 h7.9 M1532.2,371.2 h-7.9" /><path d="M251.5,310.0 h7.9 M1532.2,310.0 h-7.9" /><path d="M251.5,279.5 h7.9 M1532.2,279.5 h-7.9" /><path d="M251.5,248.9 h7.9 M1532.2,248.9 h-7.9" /><path d="M251.5,218.4 h7.9 M1532.2,218.4 h-7.9" /><path d="M251.5,157.2 h7.9 M1532.2,157.2 h-7.9" /><path d="M251.5,126.7 h7.9 M1532.2,126.7 h-7.9" /><path d="M251.5,96.1 h7.9 M1532.2,96.1 h-7.9" /><path d="M251.5,65.6 h7.9 M1532.2,65.6 h-7.9" /></g>
<g stroke="#262626" stroke-width="1.2" fill="none"><path d="M278.5,1318.5 v-7.9 M278.5,678.05 v7.9" /><path d="M333.0,1318.5 v-7.9 M333.0,678.05 v7.9" /><path d="M387.5,1318.5 v-7.9 M387.5,678.05 v7.9" /><path d="M442.0,1318.5 v-13.3 M442.0,678.05 v13.3" /><path d="M496.5,1318.5 v-7.9 M496.5,678.05 v7.9" /><path d="M551.0,1318.5 v-7.9 M551.0,678.05 v7.9" /><path d="M605.5,1318.5 v-7.9 M605.5,678.05 v7.9" /><path d="M660.0,1318.5 v-7.9 M660.0,678.05 v7.9" /><path d="M714.5,1318.5 v-13.3 M714.5,678.05 v13.3" /><path d="M769.1,1318.5 v-7.9 M769.1,678.05 v7.9" /><path d="M823.6,1318.5 v-7.9 M823.6,678.05 v7.9" /><path d="M878.1,1318.5 v-7.9 M878.1,678.05 v7.9" /><path d="M932.6,1318.5 v-7.9 M932.6,678.05 v7.9" /><path d="M987.1,1318.5 v-13.3 M987.1,678.05 v13.3" /><path d="M1041.6,1318.5 v-7.9 M1041.6,678.05 v7.9" /><path d="M1096.1,1318.5 v-7.9 M1096.1,678.05 v7.9" /><path d="M1150.6,1318.5 v-7.9 M1150.6,678.05 v7.9" /><path d="M1205.1,1318.5 v-7.9 M1205.1,678.05 v7.9" /><path d="M1259.7,1318.5 v-13.3 M1259.7,678.05 v13.3" /><path d="M1314.2,1318.5 v-7.9 M1314.2,678.05 v7.9" /><path d="M1368.7,1318.5 v-7.9 M1368.7,678.05 v7.9" /><path d="M1423.2,1318.5 v-7.9 M1423.2,678.05 v7.9" /><path d="M1477.7,1318.5 v-7.9 M1477.7,678.05 v7.9" /><path d="M1532.2,1318.5 v-13.3 M1532.2,678.05 v13.3" /><path d="M251.5,1253.8 h13.3 M1532.2,1253.8 h-13.3" /><path d="M251.5,1171.3 h13.3 M1532.2,1171.3 h-13.3" /><path d="M251.5,1088.9 h13.3 M1532.2,1088.9 h-13.3" /><path d="M251.5,1006.4 h13.3 M1532.2,1006.4 h-13.3" /><path d="M251.5,924.0 h13.3 M1532.2,924.0 h-13.3" /><path d="M251.5,841.6 h13.3 M1532.2,841.6 h-13.3" /><path d="M251.5,759.1 h13.3 M1532.2,759.1 h-13.3" /><path d="M251.5,1303.3 h7.9 M1532.2,1303.3 h-7.9" /><path d="M251.5,1286.8 h7.9 M1532.2,1286.8 h-7.9" /><path d="M251.5,1270.3 h7.9 M1532.2,1270.3 h-7.9" /><path d="M251.5,1237.3 h7.9 M1532.2,1237.3 h-7.9" /><path d="M251.5,1220.8 h7.9 M1532.2,1220.8 h-7.9" /><path d="M251.5,1204.3 h7.9 M1532.2,1204.3 h-7.9" /><path d="M251.5,1187.8 h7.9 M1532.2,1187.8 h-7.9" /><path d="M251.5,1154.9 h7.9 M1532.2,1154.9 h-7.9" /><path d="M251.5,1138.4 h7.9 M1532.2,1138.4 h-7.9" /><path d="M251.5,1121.9 h7.9 M1532.2,1121.9 h-7.9" /><path d="M251.5,1105.4 h7.9 M1532.2,1105.4 h-7.9" /><path d="M251.5,1072.4 h7.9 M1532.2,1072.4 h-7.9" /><path d="M251.5,1055.9 h7.9 M1532.2,1055.9 h-7.9" /><path d="M251.5,1039.4 h7.9 M1532.2,1039.4 h-7.9" /><path d="M251.5,1022.9 h7.9 M1532.2,1022.9 h-7.9" /><path d="M251.5,990.0 h7.9 M1532.2,990.0 h-7.9" /><path d="M251.5,973.5 h7.9 M1532.2,973.5 h-7.9" /><path d="M251.5,957.0 h7.9 M1532.2,957.0 h-7.9" /><path d="M251.5,940.5 h7.9 M1532.2,940.5 h-7.9" /><path d="M251.5,907.5 h7.9 M1532.2,907.5 h-7.9" /><path d="M251.5,891.0 h7.9 M1532.2,891.0 h-7.9" /><path d="M251.5,874.5 h7.9 M1532.2,874.5 h-7.9" /><path d="M251.5,858.0 h7.9 M1532.2,858.0 h-7.9" /><path d="M251.5,825.1 h7.9 M1532.2,825.1 h-7.9" /><path d="M251.5,808.6 h7.9 M1532.2,808.6 h-7.9" /><path d="M251.5,792.1 h7.9 M1532.2,792.1 h-7.9" /><path d="M251.5,775.6 h7.9 M1532.2,775.6 h-7.9" /><path d="M251.5,742.6 h7.9 M1532.2,742.6 h-7.9" /><path d="M251.5,726.1 h7.9 M1532.2,726.1 h-7.9" /><path d="M251.5,709.6 h7.9 M1532.2,709.6 h-7.9" /><path d="M251.5,693.1 h7.9 M1532.2,693.1 h-7.9" /></g>
<g font-family="'Liberation Sans', sans-serif" font-size="52.8" fill="#000" text-anchor="end">
<text x="238.5" y="664.4">0.9</text>
<text x="238.5" y="511.6">1.0</text>
<text x="238.5" y="358.8">1.1</text>
<text x="238.5" y="206.0">1.2</text>
<text x="238.5" y="53.2">1.3</text>
<text x="238.5" y="1272.0">0.265</text>
<text x="238.5" y="1189.5">0.270</text>
<text x="238.5" y="1107.1">0.275</text>
<text x="238.5" y="1024.6">0.280</text>
<text x="238.5" y="942.2">0.285</text>
<text x="238.5" y="859.8">0.290</text>
<text x="238.5" y="777.3">0.295</text>
</g>
<g font-family="'Liberation Sans', sans-serif" font-size="52.8" fill="#000" text-anchor="middle">
<text x="441.8" y="1379.3">30</text>
<text x="714.3" y="1379.3">40</text>
<text x="986.9" y="1379.3">50</text>
<text x="1259.5" y="1379.3">60</text>
<text x="1532.0" y="1379.3">70</text>
</g>
<text font-family="'Liberation Serif', serif" font-style="italic" font-size="58" x="890.5" y="1456" text-anchor="middle">β<tspan font-style="normal" font-size="43" dy="9.5">0</tspan></text>
<text font-family="'Liberation Serif', serif" font-style="italic" font-size="59" transform="translate(110.5,550) rotate(-90)">p<tspan font-size="43" dy="10">c</tspan><tspan dy="-10">/c</tspan><tspan font-size="43" dy="-22" dx="-1">2</tspan><tspan dy="22" font-style="normal"> [</tspan><tspan>10</tspan><tspan font-size="43" dy="-22">15</tspan><tspan dy="22">g</tspan><tspan>/cm</tspan><tspan font-size="43" dy="-22" dx="-1.5">3</tspan><tspan dy="22" dx="-0.5" font-style="normal">]</tspan></text>
<text font-family="'Liberation Serif', serif" font-style="italic" font-size="64.5" transform="translate(58.5,1030) rotate(-90)">C<tspan font-size="45" dy="10" dx="-1">e</tspan></text>
<rect x="378.3" y="954.4" width="391.6" height="232" fill="#fff" stroke="#000" stroke-width="2"/>
<path d="M396.3,980.8 H563.6" stroke="#5E81B5" stroke-width="6.8" fill="none"/>
<path d="M399.1,1039 H563.6" stroke="#FF8000" stroke-width="6.8" fill="none" stroke-dasharray="16.8 16.7"/>
<path d="M398.5,1097.3 H547" stroke="#00AA00" stroke-width="6.8" fill="none" stroke-dasharray="4.6 16.8 16.6 16.7"/>
<path d="M398.5,1155 H551" stroke="#800080" stroke-width="6.8" fill="none" stroke-dasharray="4.7 16.3"/>
<text font-family="'Liberation Sans', sans-serif" font-size="37.3" x="600" y="995.6">Ω=0</text>
<text font-family="'Liberation Sans', sans-serif" font-size="37.3" x="600" y="1052.9">Ω=0.5Ω<tspan font-style="italic" font-size="28" dy="8">K</tspan></text>
<text font-family="'Liberation Sans', sans-serif" font-size="37.3" x="600" y="1111.6">Ω=0.9Ω<tspan font-style="italic" font-size="28" dy="8">K</tspan></text>
<text font-family="'Liberation Sans', sans-serif" font-size="37.3" x="600" y="1169.7">Ω=Ω<tspan font-style="italic" font-size="28" dy="8">K</tspan></text>
</svg>
</body></html>
